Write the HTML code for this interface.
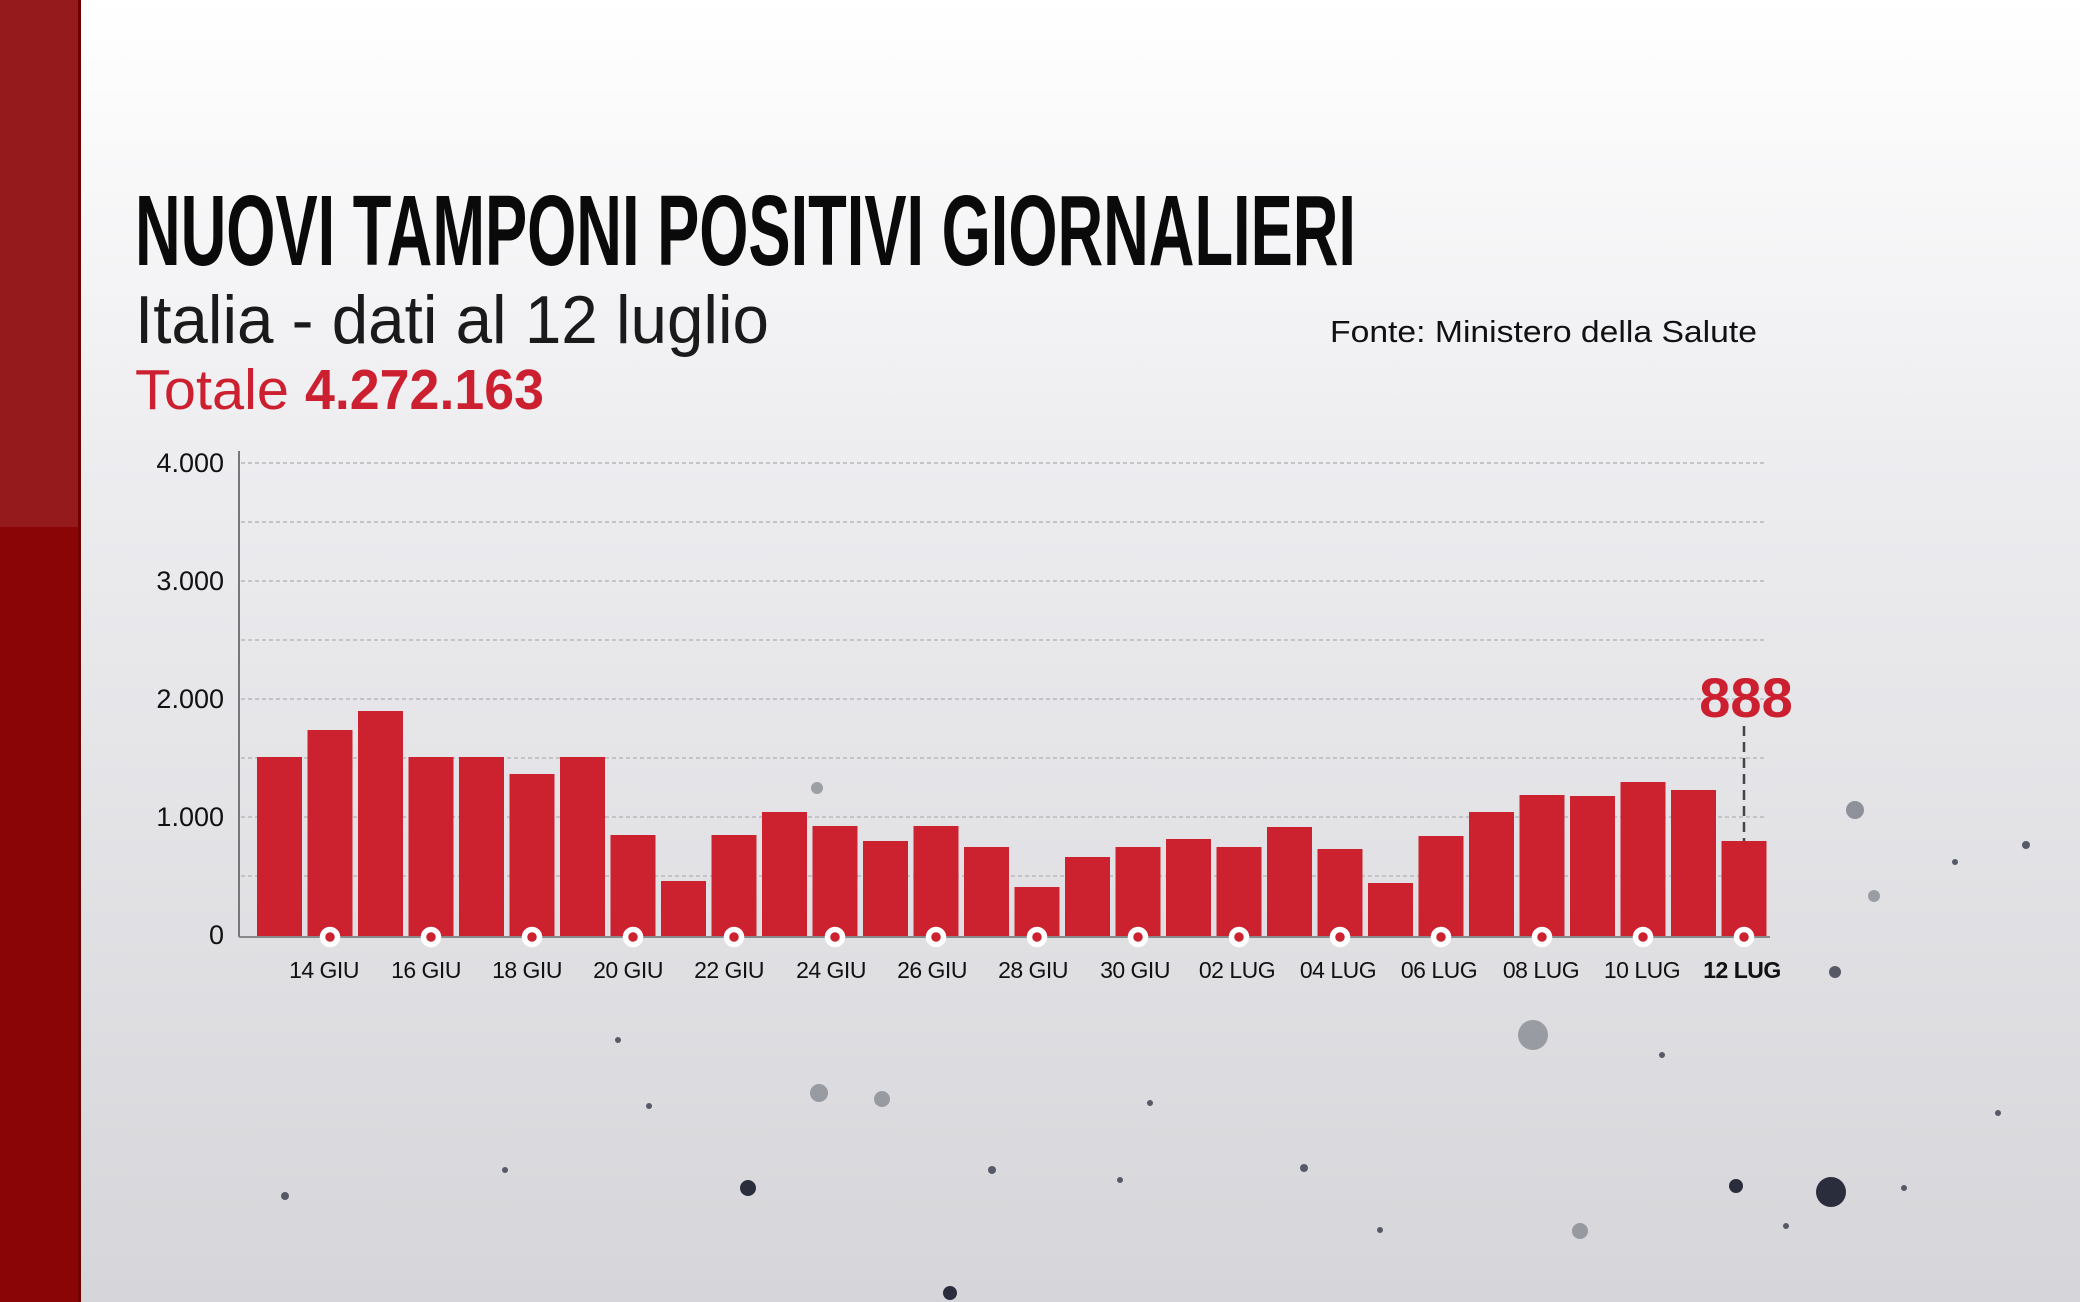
<!DOCTYPE html>
<html><head><meta charset="utf-8"><style>
html,body{margin:0;padding:0;width:2080px;height:1302px;overflow:hidden}
svg{display:block}
</style></head><body>
<svg width="2080" height="1302" viewBox="0 0 2080 1302" xmlns="http://www.w3.org/2000/svg">
<defs>
<linearGradient id="bg" x1="0" y1="0" x2="0" y2="1">
<stop offset="0" stop-color="#ffffff"/>
<stop offset="0.35" stop-color="#ededf0"/>
<stop offset="1" stop-color="#d6d6da"/>
</linearGradient>
</defs>
<rect width="2080" height="1302" fill="url(#bg)"/>
<rect x="0" y="0" width="80" height="527" fill="#951a1c"/>
<rect x="0" y="527" width="80" height="775" fill="#8a0505"/>
<rect x="78" y="0" width="3" height="1302" fill="#6e0000"/>

<g fill="#555a66">
<circle cx="1855" cy="810" r="9" opacity="0.6"/><circle cx="1835" cy="972" r="6"/>
<circle cx="1533" cy="1035" r="15" opacity="0.5"/><circle cx="1831" cy="1192" r="15" fill="#2a2d3c"/>
<circle cx="819" cy="1093" r="9" opacity="0.5"/><circle cx="882" cy="1099" r="8" opacity="0.5"/>
<circle cx="748" cy="1188" r="8" fill="#2a2d3c"/><circle cx="1736" cy="1186" r="7" fill="#2a2d3c"/>
<circle cx="1580" cy="1231" r="8" opacity="0.5"/><circle cx="950" cy="1293" r="7" fill="#2a2d3c"/>
<circle cx="1874" cy="896" r="6" opacity="0.5"/><circle cx="817" cy="788" r="6" opacity="0.5"/>
<circle cx="992" cy="1170" r="4"/><circle cx="1304" cy="1168" r="4"/><circle cx="285" cy="1196" r="4"/>
<circle cx="1786" cy="1226" r="3"/><circle cx="1904" cy="1188" r="3"/><circle cx="1998" cy="1113" r="3"/>
<circle cx="618" cy="1040" r="3"/><circle cx="649" cy="1106" r="3"/><circle cx="1120" cy="1180" r="3"/>
<circle cx="2026" cy="845" r="4"/><circle cx="1955" cy="862" r="3"/><circle cx="1380" cy="1230" r="3"/>
<circle cx="1150" cy="1103" r="3"/><circle cx="1662" cy="1055" r="3"/><circle cx="505" cy="1170" r="3"/>
</g>

<text x="135" y="265" font-family="Liberation Sans Narrow, Liberation Sans, sans-serif" font-weight="bold" font-size="100" fill="#0a0a0a" textLength="1221" lengthAdjust="spacingAndGlyphs">NUOVI TAMPONI POSITIVI GIORNALIERI</text>
<text x="135" y="343" font-family="Liberation Sans, sans-serif" font-size="68" fill="#1a1a1a" textLength="634" lengthAdjust="spacingAndGlyphs">Italia - dati al 12 luglio</text>
<text x="135" y="409" font-family="Liberation Sans, sans-serif" font-size="57" fill="#cc2030" textLength="154" lengthAdjust="spacingAndGlyphs">Totale</text>
<text x="305" y="409" font-family="Liberation Sans, sans-serif" font-weight="bold" font-size="57" fill="#cc2030" textLength="239" lengthAdjust="spacingAndGlyphs">4.272.163</text>
<text x="1330" y="342" font-family="Liberation Sans, sans-serif" font-size="31" fill="#111" textLength="427" lengthAdjust="spacingAndGlyphs">Fonte: Ministero della Salute</text>

<g stroke="#c4c4c8" stroke-width="2" stroke-dasharray="4 3">
<line x1="241" y1="463" x2="1766" y2="463"/><line x1="241" y1="522" x2="1766" y2="522"/>
<line x1="241" y1="581" x2="1766" y2="581"/><line x1="241" y1="640" x2="1766" y2="640"/>
<line x1="241" y1="699" x2="1766" y2="699"/><line x1="241" y1="758" x2="1766" y2="758"/>
<line x1="241" y1="817" x2="1766" y2="817"/><line x1="241" y1="876" x2="1766" y2="876"/>
</g>
<g font-family="Liberation Sans, sans-serif" font-size="27" fill="#111" text-anchor="end">
<text x="224" y="472">4.000</text><text x="224" y="590">3.000</text>
<text x="224" y="708">2.000</text><text x="224" y="826">1.000</text><text x="224" y="944">0</text>
</g>
<line x1="239" y1="451" x2="239" y2="937" stroke="#777" stroke-width="2"/>

<g fill="#cc212f">
<rect x="257" y="757" width="45" height="180"/>
<rect x="307.5" y="730" width="45" height="207"/>
<rect x="358" y="711" width="45" height="226"/>
<rect x="408.5" y="757" width="45" height="180"/>
<rect x="459" y="757" width="45" height="180"/>
<rect x="509.5" y="774" width="45" height="163"/>
<rect x="560" y="757" width="45" height="180"/>
<rect x="610.5" y="835" width="45" height="102"/>
<rect x="661" y="881" width="45" height="56"/>
<rect x="711.5" y="835" width="45" height="102"/>
<rect x="762" y="812" width="45" height="125"/>
<rect x="812.5" y="826" width="45" height="111"/>
<rect x="863" y="841" width="45" height="96"/>
<rect x="913.5" y="826" width="45" height="111"/>
<rect x="964" y="847" width="45" height="90"/>
<rect x="1014.5" y="887" width="45" height="50"/>
<rect x="1065" y="857" width="45" height="80"/>
<rect x="1115.5" y="847" width="45" height="90"/>
<rect x="1166" y="839" width="45" height="98"/>
<rect x="1216.5" y="847" width="45" height="90"/>
<rect x="1267" y="827" width="45" height="110"/>
<rect x="1317.5" y="849" width="45" height="88"/>
<rect x="1368" y="883" width="45" height="54"/>
<rect x="1418.5" y="836" width="45" height="101"/>
<rect x="1469" y="812" width="45" height="125"/>
<rect x="1519.5" y="795" width="45" height="142"/>
<rect x="1570" y="796" width="45" height="141"/>
<rect x="1620.5" y="782" width="45" height="155"/>
<rect x="1671" y="790" width="45" height="147"/>
<rect x="1721.5" y="841" width="45" height="96"/>
</g>
<line x1="239" y1="937" x2="1770" y2="937" stroke="#888" stroke-width="2"/>

<line x1="1744" y1="726" x2="1744" y2="841" stroke="#444" stroke-width="2.5" stroke-dasharray="10 6"/>
<text x="1746" y="717" font-family="Liberation Sans, sans-serif" font-weight="bold" font-size="56" fill="#cc2030" text-anchor="middle">888</text>

<g fill="#cc212f" stroke="#fff" stroke-width="5.5">
<circle cx="330" cy="937" r="7.5"/><circle cx="431" cy="937" r="7.5"/><circle cx="532" cy="937" r="7.5"/>
<circle cx="633" cy="937" r="7.5"/><circle cx="734" cy="937" r="7.5"/><circle cx="835" cy="937" r="7.5"/>
<circle cx="936" cy="937" r="7.5"/><circle cx="1037" cy="937" r="7.5"/><circle cx="1138" cy="937" r="7.5"/>
<circle cx="1239" cy="937" r="7.5"/><circle cx="1340" cy="937" r="7.5"/><circle cx="1441" cy="937" r="7.5"/>
<circle cx="1542" cy="937" r="7.5"/><circle cx="1643" cy="937" r="7.5"/><circle cx="1744" cy="937" r="7.5"/>
</g>
<g font-family="Liberation Sans, sans-serif" font-size="23" fill="#111" text-anchor="middle" letter-spacing="-0.5">
<text x="324" y="978">14 GIU</text><text x="426" y="978">16 GIU</text><text x="527" y="978">18 GIU</text>
<text x="628" y="978">20 GIU</text><text x="729" y="978">22 GIU</text><text x="831" y="978">24 GIU</text>
<text x="932" y="978">26 GIU</text><text x="1033" y="978">28 GIU</text><text x="1135" y="978">30 GIU</text>
<text x="1237" y="978">02 LUG</text><text x="1338" y="978">04 LUG</text><text x="1439" y="978">06 LUG</text>
<text x="1541" y="978">08 LUG</text><text x="1642" y="978">10 LUG</text>
<text x="1742" y="978" font-weight="bold">12 LUG</text>
</g>
</svg>
</body></html>
